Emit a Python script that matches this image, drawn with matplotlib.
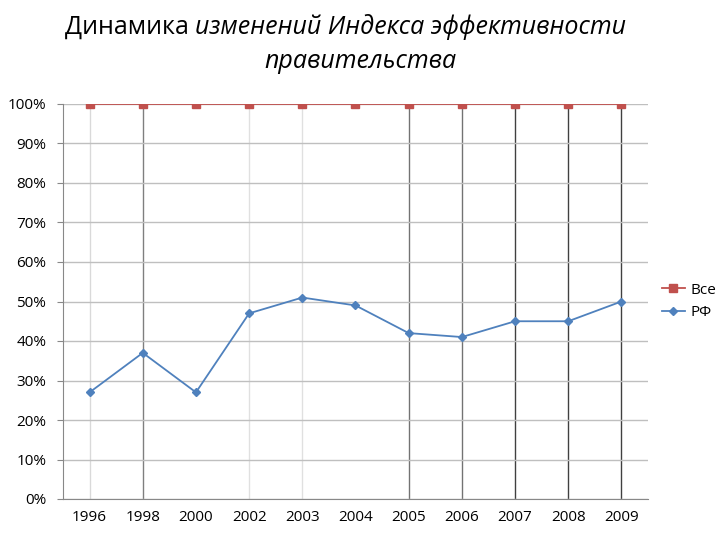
import numpy as np
import matplotlib.pyplot as plt
from matplotlib.ticker import PercentFormatter

years = ["1996", "1998", "2000", "2002", "2003", "2004", "2005", "2006", "2007", "2008", "2009"]
vse = [1.0] * 11
rf = [0.27, 0.37, 0.27, 0.47, 0.51, 0.49, 0.42, 0.41, 0.45, 0.45, 0.50]
# видимость вертикальных линий сетки по категориям
vline_alpha = [0.15, 0.5, 0.0, 0.12, 0.12, 0.0, 0.55, 0.55, 0.75, 0.75, 0.75]

plt.rcParams['font.family'] = ['Open Sans', 'DejaVu Sans']

fig = plt.figure(figsize=(7.2, 5.4), dpi=100)
ax = fig.add_axes([63/720, 41/540, 585/720, 395/540])
x = np.arange(len(years))

for xi, a in zip(x, vline_alpha):
    if a > 0:
        ax.axvline(xi, color="black", alpha=a, lw=1, zorder=0)

ax.plot(x, vse, color="#c0504d", marker="s", markersize=6, lw=1.3, label="Все")
ax.plot(x, rf, color="#4f81bd", marker="D", markersize=4, lw=1.3, label="РФ")

ax.set_xlim(-0.5, len(years) - 0.5)
ax.set_ylim(0, 1)
ax.set_yticks(np.arange(0, 1.01, 0.1))
ax.yaxis.set_major_formatter(PercentFormatter(1.0, decimals=0))
ax.set_xticks(x)
ax.set_xticklabels(years)
ax.grid(axis="y", color="#bfbfbf", lw=1)
ax.set_axisbelow(True)
for s in ["top", "right"]:
    ax.spines[s].set_visible(False)
ax.spines["left"].set_color("#888888")
ax.spines["bottom"].set_color("#888888")
ax.tick_params(length=0, labelsize=11, pad=8)
ax.tick_params(axis="y", length=4, color="#888888", direction="out")

ax.legend(loc="center left", bbox_to_anchor=(1.0, 0.5), frameon=False, fontsize=11,
          handlelength=1.5, handletextpad=0.4)

# заголовок: обычная часть + курсив, стыкуем по ширине первой части
t1 = fig.text(65/720, 1 - 27/540, "Динамика ", fontsize=18, ha="left", va="center")
fig.canvas.draw()
bb = t1.get_window_extent()
fig.text(bb.x1 / fig.bbox.width, 1 - 27/540, "изменений Индекса эффективности",
         fontsize=18, ha="left", va="center", style="italic")
fig.text(0.5, 1 - 61/540, "правительства", fontsize=18, ha="center", va="center", style="italic")

fig.savefig("out.png")
